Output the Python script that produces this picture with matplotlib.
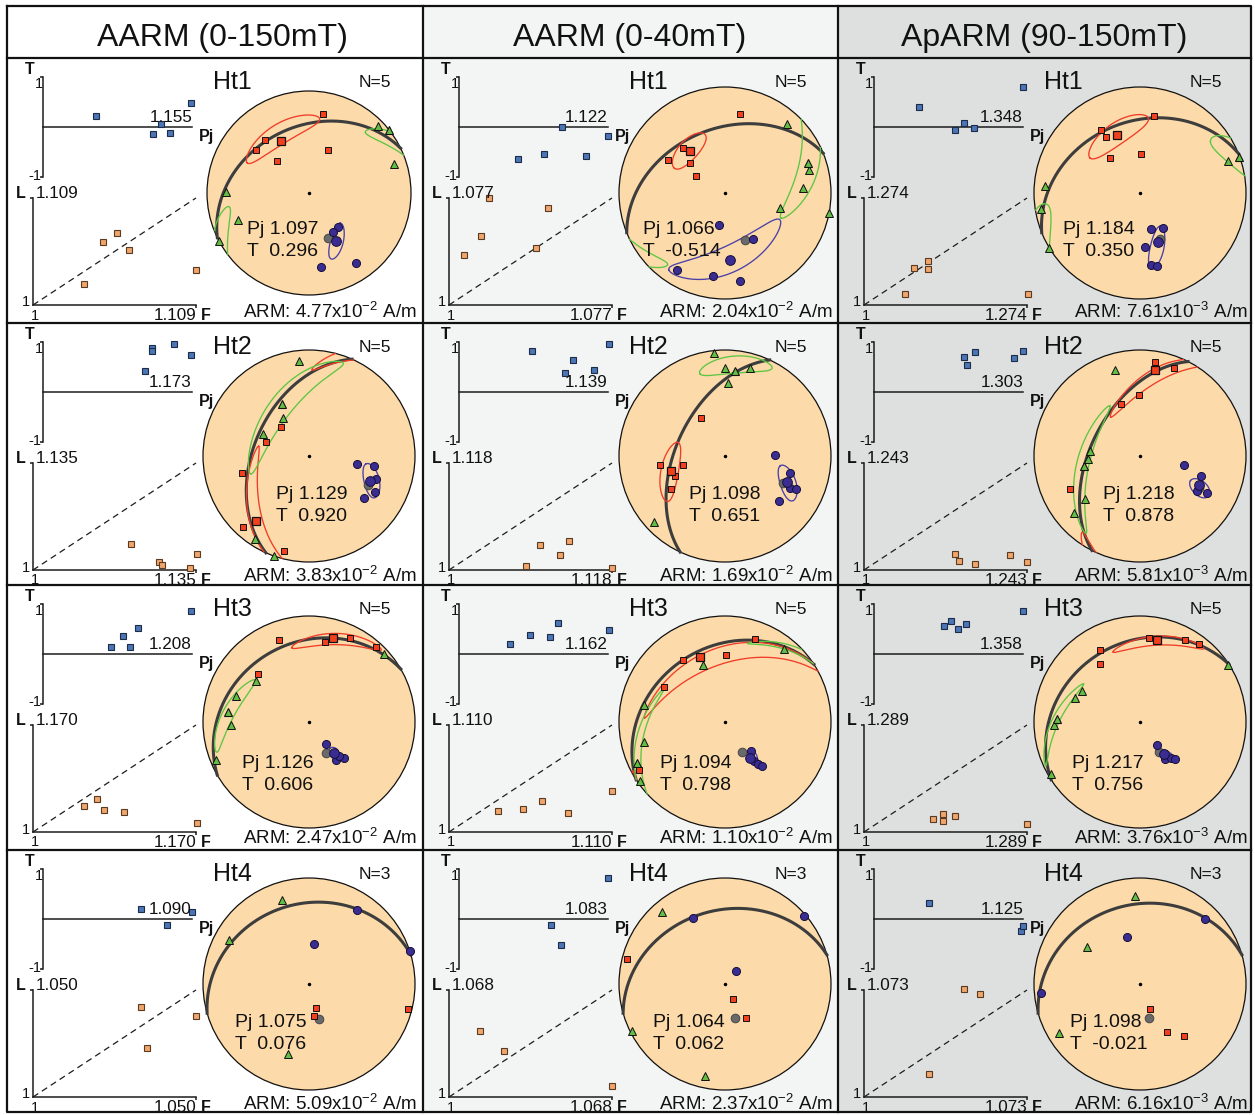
import numpy as np
import matplotlib
matplotlib.use("Agg")
import matplotlib.pyplot as plt
from matplotlib.patches import Circle, Rectangle

plt.rcParams["font.family"] = ["Liberation Sans", "DejaVu Sans"]
plt.rcParams["mathtext.fontset"] = "custom"
plt.rcParams["mathtext.rm"] = "Liberation Sans"
plt.rcParams["mathtext.it"] = "Liberation Sans:italic"
plt.rcParams["mathtext.bf"] = "Liberation Sans:bold"

# ------------------------------------------------------------------ data
COLUMN_TITLES = ["AARM (0-150mT)", "AARM (0-40mT)", "ApARM (90-150mT)"]
ROW_TITLES = ["Ht1", "Ht2", "Ht3", "Ht4"]
N_SPECIMENS = [5, 5, 5, 3]

PJ_MEAN = [[1.097, 1.066, 1.184], [1.129, 1.098, 1.218],
           [1.126, 1.094, 1.217], [1.075, 1.064, 1.098]]
T_MEAN = [[0.296, -0.514, 0.350], [0.920, 0.651, 0.878],
          [0.606, 0.798, 0.756], [0.076, 0.062, -0.021]]
ARM_MANTISSA = [[4.77, 2.04, 7.61], [3.83, 1.69, 5.81],
                [2.47, 1.10, 3.76], [5.09, 2.37, 6.16]]
ARM_EXPONENT = [[-2, -2, -3], [-2, -2, -3], [-2, -2, -3], [-2, -2, -3]]
PJ_MAX = [[1.155, 1.122, 1.348], [1.173, 1.139, 1.303],
          [1.208, 1.162, 1.358], [1.090, 1.083, 1.125]]
LF_MAX = [[1.109, 1.077, 1.274], [1.135, 1.118, 1.243],
          [1.170, 1.110, 1.289], [1.050, 1.068, 1.073]]

# specimen shape data: (Pj, T)
TPJ = [
    [[(1.055, 0.22), (1.154, 0.47), (1.123, 0.05), (1.114, -0.15), (1.132, -0.13)],
     [(1.084, 0.00), (1.122, -0.18), (1.048, -0.65), (1.070, -0.54), (1.104, -0.59)],
     [(1.104, 0.40), (1.348, 0.79), (1.210, 0.08), (1.189, -0.06), (1.233, -0.03)]],
    [[(1.127, 0.88), (1.127, 0.82), (1.152, 0.95), (1.172, 0.73), (1.118, 0.41)],
     [(1.068, 0.81), (1.106, 0.63), (1.140, 0.95), (1.099, 0.38), (1.126, 0.44)],
     [(1.183, 0.70), (1.206, 0.80), (1.189, 0.54), (1.285, 0.68), (1.304, 0.82)]],
    [[(1.207, 0.86), (1.132, 0.51), (1.112, 0.35), (1.095, 0.13), (1.122, 0.14)],
     [(1.055, 0.20), (1.077, 0.37), (1.099, 0.34), (1.108, 0.61), (1.163, 0.47)],
     [(1.358, 0.86), (1.169, 0.56), (1.185, 0.66), (1.203, 0.49), (1.221, 0.59)]],
    [[(1.059, 0.20), (1.075, -0.12), (1.090, 0.14)],
     [(1.083, 0.82), (1.051, -0.12), (1.057, -0.52)],
     [(1.046, 0.31), (1.123, -0.24), (1.125, -0.15)]],
]

# specimen foliation / lineation: (F, L)
LF = [
    [[(1.056, 1.073), (1.047, 1.064), (1.064, 1.056), (1.034, 1.021), (1.109, 1.036)],
     [(1.019, 1.077), (1.047, 1.070), (1.015, 1.050), (1.007, 1.036), (1.041, 1.041)],
     [(1.108, 1.113), (1.084, 1.096), (1.108, 1.091), (1.069, 1.028), (1.275, 1.028)]],
    [[(1.081, 1.033), (1.104, 1.010), (1.107, 1.006), (1.130, 1.003), (1.136, 1.020)],
     [(1.066, 1.028), (1.087, 1.032), (1.080, 1.017), (1.056, 1.004), (1.118, 1.002)],
     [(1.136, 1.036), (1.141, 1.021), (1.166, 1.014), (1.217, 1.034), (1.243, 1.019)]],
    [[(1.067, 1.053), (1.053, 1.041), (1.074, 1.035), (1.095, 1.031), (1.171, 1.014)],
     [(1.033, 1.022), (1.050, 1.024), (1.063, 1.032), (1.080, 1.020), (1.110, 1.042)],
     [(1.123, 1.036), (1.140, 1.049), (1.140, 1.030), (1.162, 1.043), (1.289, 1.022)]],
    [[(1.033, 1.042), (1.050, 1.038), (1.035, 1.023)],
     [(1.013, 1.042), (1.023, 1.029), (1.068, 1.007)],
     [(1.045, 1.074), (1.052, 1.070), (1.029, 1.016)]],
]

# principal axes, (declination, inclination) in degrees
K1 = [
    [[(10, 22), (320, 33), (309, 34), (315, 54), (24, 52)],
     [(11, 25), (317, 41), (300, 38), (311, 54), (300, 64)],
     [(10, 27), (328, 31), (329, 38), (319, 54), (1, 60)]],
    [[(316, 59), (288, 55), (256, 35), (223, 9), (195, 8)],
     [(328, 55), (262, 38), (248, 48), (258, 57), (239, 40)],
     [(9, 11), (21, 12), (359, 42), (340, 47), (245, 28)]],
    [[(340, 19), (11, 24), (26, 13), (42, 6), (313, 34)],
     [(20, 18), (1, 37), (326, 30), (300, 34), (241, 8)],
     [(6, 21), (29, 13), (37, 9), (331, 23), (325, 34)]],
    [[(171, 65), (163, 71), (104, 4)],
     [(284, 5), (153, 77), (149, 59)],
     [(158, 69), (151, 47), (140, 36)]],
]
K1_MEAN = [[(332, 42), (320, 47), (338, 41)], [(219, 22), (254, 46), (10, 19)],
           [(16, 19), (339, 35), (12, 22)], [None, None, None]]

K2 = [
    [[(46, 6), (71, 13), (271, 20), (249, 26), (242, 0)],
     [(42, 13), (75, 19), (86, 27), (105, 45), (101, 0)],
     [(70, 13), (274, 11), (261, 6), (239, 0)]],
    [[(354, 11), (326, 54), (295, 50), (213, 7), (199, 0)],
     [(354, 3), (0, 18), (16, 15), (2, 32), (227, 9)],
     [(344, 17), (276, 51), (267, 49), (232, 34), (229, 19)]],
    [[(48, 5), (308, 37), (290, 28), (268, 27), (248, 6)],
     [(39, 13), (339, 42), (282, 23), (256, 22), (235, 3)],
     [(57, 1), (298, 38), (290, 35), (268, 20), (240, 3)]],
    [[(342, 18), (299, 15), (197, 32)],
     [(319, 11), (243, 2), (192, 12)],
     [(357, 18), (305, 39), (239, 12)]],
]
K2_MEAN = [[(52, 0), (70, 18), (70, 1)], [(333, 44), (7, 20), (260, 45)],
           [(277, 24), (245, 9), (272, 23)], [None, None, None]]

K3 = [
    [[(140, 54), (148, 53), (171, 27), (146, 18)],
     [(191, 65), (148, 48), (212, 16), (188, 22), (170, 17)],
     [(163, 61), (147, 58), (175, 48), (171, 32), (167, 30)]],
    [[(100, 52), (99, 38), (109, 34), (119, 30), (127, 35)],
     [(89, 51), (105, 37), (116, 32), (115, 27), (130, 34)],
     [(102, 55), (108, 39), (122, 37), (119, 29)]],
    [[(142, 69), (145, 54), (136, 51), (139, 55)],
     [(138, 60), (143, 52), (142, 48), (140, 45)],
     [(143, 68), (146, 55), (140, 53), (137, 50)]],
    [[(33, 18), (7, 59), (72, 0)],
     [(334, 31), (49, 2), (40, 77)],
     [(45, 14), (344, 52), (265, 7)]],
]
K3_MEAN = [[(151, 45), (176, 37), (160, 49)], [(112, 38), (113, 37), (116, 38)],
           [(141, 59), (146, 56), (144, 59)], [None, None, None]]

GRAY_AXIS = [[(157, 50), (157, 50), (156, 51)], [(116, 38), (115, 39), (119, 37)],
             [(151, 63), (150, 63), (148, 63)], [(164, 62), (164, 63), (165, 63)]]

# pole of the fitted great circle
GC_POLE = [[(154, 55), (158, 51), (158, 57)], [(114, 43), (115, 38), (117, 38)],
           [(150, 64), (147, 60), (147, 64)], [(164, 65), (164, 59), (164, 64)]]

# confidence ellipses: major-axis tips A and B (dec, inc) and minor half-angle
ELL_K1 = [[(296, 33, 8, 27, 9), (296, 46, 341, 41, 8), (305, 42, 6, 29, 9)],
          [(281, 50, 182, -20, 5), (286, 52, 232, 31, 7), (323, 52, 37, -11, 5)],
          [(347, 29, 45, 4, 5), (273, 25, 62, -2, 7), (339, 30, 41, 9, 4)],
          [None, None, None]]
ELL_K2 = [[(43, 20, 80, -22, 6), (114, 42, 39, -15, 8), (54, 19, 82, -14, 9)],
          [(253, 42, 20, 7, 9), (343, 20, 28, 6, 8), (329, 44, 215, 12, 5)],
          [(308, 36, 252, 9, 5), (299, 35, 196, -24, 3), (304, 36, 245, 2, 3)],
          [None, None, None]]
ELL_K3 = [[(134, 55, 161, 32, 5), (216, 11, 116, 42, 11), (148, 60, 171, 29, 5)],
          [(98, 45, 122, 27, 6), (100, 46, 123, 24, 6), (116, 46, 120, 26, 5)],
          [(142, 64, 139, 56, 3), (139, 61, 143, 50, 3), (150, 65, 137, 53, 2.5)],
          [None, None, None]]

# ------------------------------------------------------------------ layout (pixels)
W, H = 1255, 1115
COL_X = [7, 423, 838, 1251]
ROW_Y = [58, 323, 585, 850, 1112]
FRAME_TOP = 6
HEADER_X = [222, 630, 1044]
HEADER_BASE = 46
COL_BG = ["#ffffff", "#f3f5f5", "#dedfdf"]

TPJ_BOX = (36, 19, 185, 118.5)      # left, top, right, bottom inside a panel
LF_BOX = (26, 140, 189, 247)
NET_CX = 302
NET_CY = [135, 133, 137, 134]
NET_R = [[102, 106, 106], [106, 106, 106], [106, 106, 106], [106, 106, 106]]
STAT_POS = [[(240, 169), (220, 169), (225, 169)],
            [(269, 169), (266, 169), (265, 169)],
            [(235, 176), (237, 176), (234, 176)],
            [(228, 170), (230, 170), (232, 170)]]

AX_C = "#1c1c1c"
AX_LW = 1.1
NET_FILL = "#fcdaa9"
GC_COLOR = "#3d3d3d"
RED_FILL, RED_LINE = "#f2401f", "#f03c28"
GREEN_FILL, GREEN_LINE = "#63bd45", "#5cc644"
BLUE_FILL, BLUE_LINE = "#3b2c92", "#4a40a8"
GRAY_FILL = "#6a6a6a"
TPJ_FILL, TPJ_EDGE = "#4b76b3", "#1b2b4a"
LF_FILL, LF_EDGE = "#efa56b", "#5a3a20"


# ------------------------------------------------------------------ helpers
def dir_vec(dec, inc):
    d = np.radians(np.asarray(dec, float))
    i = np.radians(np.asarray(inc, float))
    return np.array([np.cos(i) * np.cos(d), np.cos(i) * np.sin(d), np.sin(i)])


def lower_proj(v):
    """Equal-area, lower-hemisphere projection of (north, east, down) vectors."""
    v = np.array(v, dtype=float).reshape(3, -1)
    up = v[2] < 0
    v[:, up] = -v[:, up]
    s = np.sqrt(1.0 + v[2])
    return v[1] / s, v[0] / s, up


def cone_ellipse(dec_a, inc_a, dec_b, inc_b, half_minor, n=500):
    a = dir_vec(dec_a, inc_a)
    b = dir_vec(dec_b, inc_b)
    c = a + b
    c /= np.linalg.norm(c)
    half_major = 0.5 * np.arccos(np.clip(a @ b, -1, 1))
    m = a - (a @ c) * c
    m /= np.linalg.norm(m)
    k = np.cross(c, m)
    t = np.linspace(0, 2 * np.pi, n)
    pts = (c[:, None] + np.tan(half_major) * np.cos(t) * m[:, None]
           + np.tan(np.radians(half_minor)) * np.sin(t) * k[:, None])
    pts /= np.linalg.norm(pts, axis=0)
    x, y, up = lower_proj(pts)
    brk = np.where(up[1:] != up[:-1])[0] + 1
    return np.insert(x, brk, np.nan), np.insert(y, brk, np.nan)


def plane_trace(pole_dec, pole_inc, n=300):
    p = dir_vec(pole_dec, pole_inc)
    u = np.cross(p, [0.0, 0.0, 1.0])
    u /= np.linalg.norm(u)
    w = np.cross(p, u)
    w /= np.linalg.norm(w)
    if w[2] < 0:
        w = -w
    t = np.linspace(0, np.pi, n)
    pts = np.cos(t) * u[:, None] + np.sin(t) * w[:, None]
    x, y, _ = lower_proj(pts)
    return x, y


fig = plt.figure(figsize=(W / 100, H / 100), dpi=100)
fig.patch.set_facecolor("white")


def px_axes(x, y, w, h, z):
    ax = fig.add_axes([x / W, 1 - (y + h) / H, w / W, h / H], zorder=z)
    ax.patch.set_visible(False)
    return ax


def label(ax, s, xy, dx, dy, size, ha="left", bold=False):
    ax.annotate(s, xy=xy, xytext=(dx, dy), textcoords="offset pixels",
                ha=ha, va="baseline", fontsize=size, color="#111111",
                fontweight="bold" if bold else "normal", annotation_clip=False)


def plot_dirs(ax, dirs, **kw):
    dirs = [d for d in dirs if d is not None]
    if not dirs:
        return
    dec, inc = zip(*dirs)
    x, y, _ = lower_proj(dir_vec(dec, inc))
    ax.plot(x, y, ls="none", clip_on=False, **kw)


# ------------------------------------------------------------------ background and frame
base = px_axes(0, 0, W, H, 0)
base.set_xlim(0, W)
base.set_ylim(H, 0)
base.set_axis_off()
for c in range(3):
    base.add_patch(Rectangle((COL_X[c], FRAME_TOP), COL_X[c + 1] - COL_X[c],
                             ROW_Y[-1] - FRAME_TOP, fc=COL_BG[c], ec="none"))

over = px_axes(0, 0, W, H, 20)
over.set_xlim(0, W)
over.set_ylim(H, 0)
over.set_axis_off()
frame_kw = dict(color="#111111", lw=1.6, solid_capstyle="projecting")
over.plot([COL_X[0], COL_X[-1], COL_X[-1], COL_X[0], COL_X[0]],
          [FRAME_TOP, FRAME_TOP, ROW_Y[-1], ROW_Y[-1], FRAME_TOP], **frame_kw)
for yy in ROW_Y[:-1]:
    over.plot([COL_X[0], COL_X[-1]], [yy, yy], **frame_kw)
for xx in COL_X[1:-1]:
    over.plot([xx, xx], [FRAME_TOP, ROW_Y[-1]], **frame_kw)
for c in range(3):
    over.text(HEADER_X[c], HEADER_BASE, COLUMN_TITLES[c], fontsize=23,
              ha="center", va="baseline", color="#111111")

# ------------------------------------------------------------------ panels
for r in range(4):
    for c in range(3):
        x0, y0 = COL_X[c], ROW_Y[r]

        # --- T versus Pj
        pjmax = PJ_MAX[r][c]
        ax = px_axes(x0 + TPJ_BOX[0], y0 + TPJ_BOX[1],
                     TPJ_BOX[2] - TPJ_BOX[0], TPJ_BOX[3] - TPJ_BOX[1], 3)
        ax.set_xlim(1, pjmax)
        ax.set_ylim(-1, 1)
        for s in ("top", "right", "bottom"):
            ax.spines[s].set_visible(False)
        ax.spines["left"].set_linewidth(AX_LW)
        ax.spines["left"].set_color(AX_C)
        ax.set_xticks([])
        ax.set_yticks([-1, 1])
        ax.set_yticklabels([])
        ax.tick_params(axis="y", length=2.5, width=AX_LW, color=AX_C)
        ax.plot([1, pjmax], [0, 0], color=AX_C, lw=AX_LW, clip_on=False)
        pj, tt = zip(*TPJ[r][c])
        ax.plot(pj, tt, ls="none", marker="s", ms=4.4, mfc=TPJ_FILL, mec=TPJ_EDGE,
                mew=0.8, clip_on=False, zorder=3)
        label(ax, "T", (1, 1), -13, 3, 11.5, ha="center", bold=True)
        label(ax, "1", (1, 1), -0.5, -11, 10.5, ha="right")
        label(ax, "-1", (1, -1), -1.5, -3, 10.5, ha="right")
        label(ax, f"{pjmax:.3f}", (pjmax, 0), 0, 4.5, 12.3, ha="right")
        label(ax, "Pj", (pjmax, 0), 7, -14, 11.5, bold=True)

        # --- L versus F
        lfmax = LF_MAX[r][c]
        ax = px_axes(x0 + LF_BOX[0], y0 + LF_BOX[1],
                     LF_BOX[2] - LF_BOX[0], LF_BOX[3] - LF_BOX[1], 3)
        ax.set_xlim(1, lfmax)
        ax.set_ylim(1, lfmax)
        for s in ("top", "right"):
            ax.spines[s].set_visible(False)
        for s in ("left", "bottom"):
            ax.spines[s].set_linewidth(AX_LW)
            ax.spines[s].set_color(AX_C)
        ax.set_xticks([lfmax])
        ax.set_yticks([lfmax])
        ax.set_xticklabels([])
        ax.set_yticklabels([])
        ax.tick_params(length=2.5, width=AX_LW, color=AX_C)
        ax.plot([1, lfmax], [1, lfmax], color=AX_C, lw=0.9, dashes=(5, 3.5),
                clip_on=False)
        ff, ll = zip(*LF[r][c])
        ax.plot(ff, ll, ls="none", marker="s", ms=4.4, mfc=LF_FILL, mec=LF_EDGE,
                mew=0.8, clip_on=False, zorder=3)
        label(ax, "L", (1, lfmax), -12, 0, 11.5, ha="center", bold=True)
        label(ax, f"{lfmax:.3f}", (1, lfmax), 2.5, 0, 12.3)
        label(ax, "1", (1, 1), -3, -1.5, 10.5, ha="right")
        label(ax, "1", (1, 1), 2, -14.5, 10.5, ha="center")
        label(ax, f"{lfmax:.3f}", (lfmax, 1), 0.5, -15, 12.3, ha="right")
        label(ax, "F", (lfmax, 1), 5, -15, 11.5, bold=True)

        # --- stereonet
        R = NET_R[r][c]
        cx, cy = x0 + NET_CX, y0 + NET_CY[r]
        ax = px_axes(cx - R, cy - R, 2 * R, 2 * R, 5)
        ax.set_xlim(-1, 1)
        ax.set_ylim(-1, 1)
        ax.set_axis_off()
        ax.add_patch(Circle((0, 0), 1, fc=NET_FILL, ec="#111111", lw=0.9,
                            zorder=0, clip_on=False))
        ax.plot([0], [0], marker="o", ms=1.5, color="k", zorder=1)
        gx, gy = plane_trace(*GC_POLE[r][c])
        ax.plot(gx, gy, color=GC_COLOR, lw=2.2, zorder=2, clip_on=False)
        for ell, col in ((ELL_K1, RED_LINE), (ELL_K2, GREEN_LINE), (ELL_K3, BLUE_LINE)):
            e = ell[r][c]
            if e is not None:
                ex, ey = cone_ellipse(*e)
                ax.plot(ex, ey, color=col, lw=0.95, zorder=3, clip_on=False)
        plot_dirs(ax, [GRAY_AXIS[r][c]], marker="o", ms=6.2, mfc=GRAY_FILL,
                  mec="#474747", mew=0.7, zorder=4)
        plot_dirs(ax, K3[r][c], marker="o", ms=5.8, mfc=BLUE_FILL, mec="#15103a",
                  mew=0.7, zorder=5)
        plot_dirs(ax, [K3_MEAN[r][c]], marker="o", ms=7.0, mfc=BLUE_FILL,
                  mec="#15103a", mew=0.7, zorder=5)
        plot_dirs(ax, K2[r][c], marker="^", ms=5.6, mfc=GREEN_FILL, mec="#111111",
                  mew=0.7, zorder=6)
        plot_dirs(ax, [K2_MEAN[r][c]], marker="^", ms=6.4, mfc=GREEN_FILL,
                  mec="#111111", mew=0.8, zorder=6)
        plot_dirs(ax, K1[r][c], marker="s", ms=5.0, mfc=RED_FILL, mec="#111111",
                  mew=0.7, zorder=7)
        plot_dirs(ax, [K1_MEAN[r][c]], marker="s", ms=6.4, mfc=RED_FILL,
                  mec="#111111", mew=0.9, zorder=7)

        # --- panel texts
        over.text(x0 + 225, y0 + 31, ROW_TITLES[r], fontsize=18, ha="center",
                  va="baseline", color="#111111")
        over.text(x0 + 368, y0 + 29, f"N={N_SPECIMENS[r]}", fontsize=12.5,
                  ha="center", va="baseline", color="#111111")
        sx, sy = STAT_POS[r][c]
        over.text(x0 + sx, y0 + sy + 7, f"Pj {PJ_MEAN[r][c]:.3f}", fontsize=14,
                  ha="left", va="baseline", color="#111111")
        over.text(x0 + sx, y0 + sy + 29, f"T  {T_MEAN[r][c]:.3f}", fontsize=14,
                  ha="left", va="baseline", color="#111111")
        over.text(x0 + 410, y0 + 259.5,
                  rf"ARM: {ARM_MANTISSA[r][c]:.2f}x10$^{{{ARM_EXPONENT[r][c]}}}$ A/m",
                  fontsize=13.5, ha="right", va="baseline", color="#111111")

fig.savefig("out.png", dpi=100)
